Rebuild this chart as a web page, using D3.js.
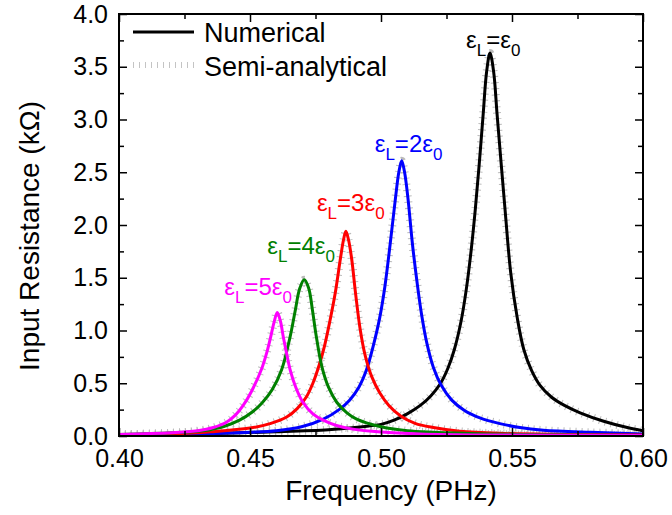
<!DOCTYPE html>
<html>
<head>
<meta charset="utf-8">
<script src="https://cdn.jsdelivr.net/npm/d3@7"></script>
<style>
  html, body { margin: 0; padding: 0; background: #fff; }
  svg { display: block; font-family: "Liberation Sans", Arial, sans-serif; }
</style>
</head>
<body>
<svg id="chart" width="672" height="515"></svg>
<script>
// ---- Data ----
const seriesNames = ["eps1", "eps2", "eps3", "eps4", "eps5"];
const seriesColors = ["#000000", "#0000ff", "#ff0000", "#008000", "#ff00ff"];

// frequency (PHz), input resistance (kOhm)
const eps1Freq = [0.400, 0.430, 0.460, 0.480, 0.492, 0.500, 0.505, 0.510, 0.515, 0.519, 0.5225, 0.5255, 0.528, 0.5305, 0.5325, 0.5345, 0.5360, 0.5375, 0.5390, 0.5403, 0.5416, 0.5430, 0.5443, 0.5458, 0.5475, 0.5495, 0.5520, 0.5545, 0.5575, 0.5607, 0.5650, 0.5700, 0.5760, 0.5850, 0.5940, 0.6000];
const eps1Val  = [0.010, 0.020, 0.040, 0.060, 0.085, 0.110, 0.150, 0.210, 0.290, 0.380, 0.490, 0.640, 0.820, 1.080, 1.380, 1.780, 2.150, 2.580, 3.050, 3.450, 3.630, 3.450, 3.050, 2.600, 2.100, 1.550, 1.120, 0.820, 0.620, 0.480, 0.370, 0.290, 0.220, 0.140, 0.080, 0.050];

const eps2Freq = [0.400, 0.430, 0.450, 0.460, 0.470, 0.478, 0.484, 0.488, 0.4915, 0.4945, 0.4970, 0.4995, 0.5015, 0.5035, 0.5055, 0.5068, 0.5079, 0.5090, 0.5103, 0.5120, 0.5138, 0.5155, 0.5175, 0.5200, 0.5230, 0.5270, 0.5320, 0.5380, 0.5450, 0.5530, 0.5620, 0.5800, 0.6000];
const eps2Val  = [0.010, 0.020, 0.035, 0.050, 0.090, 0.160, 0.250, 0.340, 0.460, 0.630, 0.850, 1.120, 1.420, 1.820, 2.250, 2.500, 2.610, 2.500, 2.250, 1.820, 1.450, 1.150, 0.880, 0.650, 0.480, 0.340, 0.240, 0.170, 0.120, 0.080, 0.055, 0.035, 0.020];

const eps3Freq = [0.400, 0.420, 0.435, 0.450, 0.458, 0.464, 0.468, 0.4715, 0.4740, 0.4765, 0.4785, 0.4805, 0.4825, 0.4845, 0.4857, 0.4866, 0.4876, 0.4888, 0.4903, 0.4920, 0.4940, 0.4965, 0.4995, 0.5030, 0.5075, 0.5130, 0.5200, 0.5300, 0.5450, 0.5700, 0.6000];
const eps3Val  = [0.010, 0.020, 0.040, 0.075, 0.120, 0.180, 0.260, 0.370, 0.500, 0.680, 0.860, 1.090, 1.350, 1.680, 1.860, 1.940, 1.860, 1.680, 1.350, 1.020, 0.760, 0.560, 0.410, 0.290, 0.190, 0.120, 0.080, 0.045, 0.025, 0.015, 0.010];

const eps4Freq = [0.400, 0.420, 0.432, 0.440, 0.446, 0.451, 0.4545, 0.4585, 0.4621, 0.4653, 0.4672, 0.4690, 0.4707, 0.4724, 0.4738, 0.4752, 0.4775, 0.4800, 0.4831, 0.4870, 0.4907, 0.4996, 0.5100, 0.5200, 0.5400, 0.5700, 0.6000];
const eps4Val  = [0.015, 0.030, 0.050, 0.090, 0.150, 0.230, 0.310, 0.440, 0.630, 0.940, 1.180, 1.400, 1.480, 1.400, 1.200, 0.960, 0.650, 0.460, 0.320, 0.220, 0.160, 0.090, 0.050, 0.035, 0.020, 0.010, 0.005];

const eps5Freq = [0.400, 0.420, 0.430, 0.436, 0.441, 0.4445, 0.4474, 0.4505, 0.4545, 0.4565, 0.4579, 0.4592, 0.4604, 0.4616, 0.4627, 0.4640, 0.4653, 0.4675, 0.4702, 0.4740, 0.4779, 0.4830, 0.4893, 0.5000, 0.5150, 0.5400, 0.6000];
const eps5Val  = [0.015, 0.030, 0.050, 0.080, 0.130, 0.200, 0.290, 0.420, 0.640, 0.800, 0.940, 1.080, 1.170, 1.090, 0.940, 0.780, 0.630, 0.460, 0.320, 0.210, 0.150, 0.100, 0.065, 0.038, 0.020, 0.010, 0.005];

const seriesFreqs = [eps1Freq, eps2Freq, eps3Freq, eps4Freq, eps5Freq];
const seriesVals  = [eps1Val, eps2Val, eps3Val, eps4Val, eps5Val];

// Peak labels: multiplier text ("" for eps0), and label anchor (freq, value)
const labelMult  = ["", "2", "3", "4", "5"];
const labelFreq  = [0.5416, 0.5079, 0.4866, 0.4707, 0.4604];
const labelVal   = [3.63, 2.61, 1.94, 1.48, 1.17];

const xTicks = [0.40, 0.45, 0.50, 0.55, 0.60];
const yTicks = [0.0, 0.5, 1.0, 1.5, 2.0, 2.5, 3.0, 3.5, 4.0];
const legendLabels = ["Numerical", "Semi-analytical"];
const xTitle = "Frequency (PHz)";
const yTitle = "Input Resistance (k\u03A9)";

// ---- Layout ----
const svg = d3.select("#chart");
const L = 119, R = 643, T = 14, B = 436;
const x = d3.scaleLinear().domain([0.40, 0.60]).range([L, R]);
const y = d3.scaleLinear().domain([0, 4.0]).range([B, T]);

svg.append("defs").append("clipPath").attr("id", "clip")
  .append("rect").attr("x", L).attr("y", T).attr("width", R - L).attr("height", B - T);

const plot = svg.append("g").attr("clip-path", "url(#clip)");

const line = d3.line()
  .x(d => x(d[0])).y(d => y(d[1]))
  .curve(d3.curveCatmullRom.alpha(0.5));

const seriesData = seriesNames.map((n, i) => seriesFreqs[i].map((f, j) => [f, seriesVals[i][j]]));

// Semi-analytical (gray tick markers) drawn underneath
seriesData.forEach((d, i) => {
  plot.append("path").datum(d)
    .attr("d", line)
    .attr("fill", "none")
    .attr("stroke", "#bbbbbb")
    .attr("stroke-width", 8)
    .attr("stroke-dasharray", "1,5");
});
// Numerical curves
seriesData.forEach((d, i) => {
  plot.append("path").datum(d)
    .attr("d", line)
    .attr("fill", "none")
    .attr("stroke", seriesColors[i])
    .attr("stroke-width", 3)
    .attr("stroke-linejoin", "round");
});

// ---- Axes ----
const fs = 25;
const xAxisB = d3.axisBottom(x).tickValues(xTicks).tickSizeInner(-8).tickSizeOuter(0).tickPadding(13).tickFormat(d3.format(".2f"));
const xAxisT = d3.axisTop(x).tickValues(xTicks).tickSizeInner(-8).tickSizeOuter(0).tickFormat("");
const yAxisL = d3.axisLeft(y).tickValues(yTicks).tickSizeInner(-8).tickSizeOuter(0).tickPadding(11).tickFormat(d3.format(".1f"));
const yAxisR = d3.axisRight(y).tickValues(yTicks).tickSizeInner(-8).tickSizeOuter(0).tickFormat("");

const xMinor = d3.range(0, 9).map(i => 0.40 + 0.025 * i).filter((v, i) => i % 2 === 1);
const yMinor = d3.range(0, 17).map(i => 0.25 * i).filter((v, i) => i % 2 === 1);

function styleAxis(g) {
  g.select(".domain").remove();
  g.selectAll("line").attr("stroke", "#000").attr("stroke-width", 1.5);
  g.selectAll("text").attr("font-size", fs).attr("fill", "#000").attr("font-family", "'Liberation Sans', Arial, sans-serif");
}

svg.append("g").attr("transform", `translate(0,${B})`).call(xAxisB).call(styleAxis);
svg.append("g").attr("transform", `translate(0,${T})`).call(xAxisT).call(styleAxis);
svg.append("g").attr("transform", `translate(${L},0)`).call(yAxisL).call(styleAxis);
svg.append("g").attr("transform", `translate(${R},0)`).call(yAxisR).call(styleAxis);

const minorB = d3.axisBottom(x).tickValues(xMinor).tickSizeInner(-5).tickSizeOuter(0).tickFormat("");
const minorT = d3.axisTop(x).tickValues(xMinor).tickSizeInner(-5).tickSizeOuter(0).tickFormat("");
const minorL = d3.axisLeft(y).tickValues(yMinor).tickSizeInner(-5).tickSizeOuter(0).tickFormat("");
const minorR = d3.axisRight(y).tickValues(yMinor).tickSizeInner(-5).tickSizeOuter(0).tickFormat("");
svg.append("g").attr("transform", `translate(0,${B})`).call(minorB).call(styleAxis);
svg.append("g").attr("transform", `translate(0,${T})`).call(minorT).call(styleAxis);
svg.append("g").attr("transform", `translate(${L},0)`).call(minorL).call(styleAxis);
svg.append("g").attr("transform", `translate(${R},0)`).call(minorR).call(styleAxis);

// frame
svg.append("rect").attr("x", L).attr("y", T).attr("width", R - L).attr("height", B - T)
  .attr("fill", "none").attr("stroke", "#000").attr("stroke-width", 2);

// ---- Axis titles ----
svg.append("text").attr("x", 391).attr("y", 500)
  .attr("text-anchor", "middle").attr("font-size", 28).text(xTitle);
svg.append("text").attr("transform", `translate(39,236) rotate(-90)`)
  .attr("text-anchor", "middle").attr("font-size", 28).text(yTitle);

// ---- Legend ----
const lg = svg.append("g");
lg.append("line").attr("x1", 133).attr("x2", 194).attr("y1", 32).attr("y2", 32)
  .attr("stroke", "#000").attr("stroke-width", 3);
lg.append("line").attr("x1", 133).attr("x2", 194).attr("y1", 65).attr("y2", 65)
  .attr("stroke", "#c4c4c4").attr("stroke-width", 6).attr("stroke-dasharray", "1,5");
lg.selectAll("text.leg").data(legendLabels).enter().append("text")
  .attr("class", "leg").attr("x", 204).attr("y", (d, i) => 42 + i * 34)
  .attr("font-size", 27).text(d => d);

// ---- Peak labels ----
const labelDx = [-24, -27, -29, -37, -53];
const labelDy = [-5, -9, -20, -26, -18];
labelMult.forEach((m, i) => {
  const t = svg.append("text")
    .attr("x", x(labelFreq[i]) + labelDx[i])
    .attr("y", y(labelVal[i]) + labelDy[i])
    .attr("font-size", 24).attr("fill", seriesColors[i]);
  t.append("tspan").text("\u03B5");
  t.append("tspan").attr("font-size", 17).attr("dy", 8).text("L");
  t.append("tspan").attr("dy", -8).text("=" + m + "\u03B5");
  t.append("tspan").attr("font-size", 17).attr("dy", 8).text("0");
});
</script>
</body>
</html>
